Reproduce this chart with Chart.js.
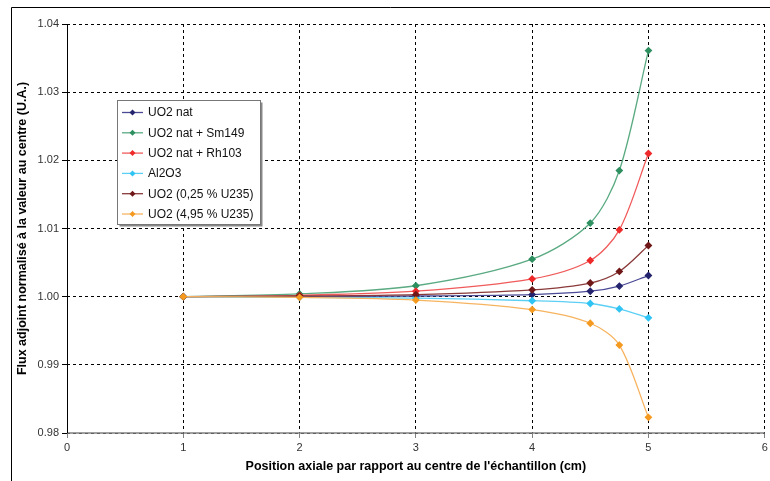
<!DOCTYPE html>
<html>
<head>
<meta charset="utf-8">
<script src="https://cdn.jsdelivr.net/npm/chart.js@4.4.1/dist/chart.umd.min.js"></script>
<style>
  html, body { margin: 0; padding: 0; background: #fff; }
  #wrap { width: 770px; height: 481px; }
</style>
</head>
<body>
<div id="wrap"><canvas id="graficaFlux" width="770" height="481"></canvas></div>
<script>
// positions (cm) et flux normalisé
const positions = [1, 2, 3, 4, 4.5, 4.75, 5];
const uo2Nat     = [1.0000, 1.0000, 1.0001, 1.0003, 1.0008, 1.00155, 1.0031];
const uo2Sm149   = [1.0000, 1.0004, 1.0016, 1.0055, 1.0108, 1.0185, 1.0361];
const uo2Rh103   = [1.0000, 1.0002, 1.0008, 1.0026, 1.0053, 1.0098, 1.0210];
const al2o3      = [1.0000, 0.9999, 0.9998, 0.9994, 0.9990, 0.9982, 0.9969];
const uo2Low     = [1.0000, 1.0001, 1.0003, 1.0010, 1.0020, 1.0037, 1.0075];
const uo2High    = [1.0000, 0.9999, 0.9995, 0.9981, 0.9961, 0.9929, 0.9823];

const noms = ["UO2 nat", "UO2 nat + Sm149", "UO2 nat + Rh103", "Al2O3", "UO2 (0,25 % U235)", "UO2 (4,95 % U235)"];
const series = [uo2Nat, uo2Sm149, uo2Rh103, al2o3, uo2Low, uo2High];
const couleurs = ['#24246e', '#2e9060', '#ee2a2a', '#30c4f4', '#701818', '#f59a20'];
const couleursLigne = ['#4a4a96', '#5aaa82', '#f05a5a', '#5ccff4', '#8a3a3a', '#f7b460'];

const xTicks = [0, 1, 2, 3, 4, 5, 6];

const police = "'Liberation Sans', Arial, sans-serif";

const datasets = series.map((s, i) => ({
    label: noms[i],
    data: s.map((v, j) => ({ x: positions[j], y: v })),
    borderColor: couleursLigne[i],
    backgroundColor: couleurs[i],
    pointBackgroundColor: couleurs[i],
    pointBorderColor: couleurs[i],
    pointStyle: 'rectRot',
    pointRadius: 3,
    borderWidth: 1.3,
    tension: 0.3,
    order: series.length - i
}));

const cadre = {
    id: 'cadre',
    beforeDraw(chart) {
        const c = chart.ctx;
        c.save();
        c.fillStyle = '#fff';
        c.fillRect(0, 0, chart.width, chart.height);
        c.strokeStyle = '#000';
        c.lineWidth = 1;
        c.beginPath();
        c.moveTo(11.5, chart.height);
        c.lineTo(11.5, 7.5);
        c.lineTo(chart.width, 7.5);
        c.stroke();
        c.restore();
    },
    beforeDatasetsDraw(chart) {
        // axes pleins : x gris, y noir
        const a = chart.chartArea;
        const c = chart.ctx;
        c.save();
        c.lineWidth = 1.5;
        c.strokeStyle = '#808080';
        c.beginPath();
        c.moveTo(a.left, Math.round(a.bottom));
        c.lineTo(a.right, Math.round(a.bottom));
        c.stroke();
        c.lineWidth = 1;
        c.strokeStyle = '#000';
        c.beginPath();
        c.moveTo(Math.round(a.left) + 0.5, a.top);
        c.lineTo(Math.round(a.left) + 0.5, a.bottom);
        c.stroke();
        c.restore();
    }
};

const legende = {
    id: 'legende',
    afterDraw(chart) {
        const c = chart.ctx;
        const x = 117.5, y = 100.5, w = 143, h = 124;
        c.save();
        c.fillStyle = '#888';
        c.fillRect(x + 2, y + 2, w, h);
        c.fillStyle = '#fff';
        c.fillRect(x, y, w, h);
        c.strokeStyle = '#777';
        c.lineWidth = 1;
        c.strokeRect(x, y, w, h);
        c.font = '12px ' + police;
        c.textBaseline = 'middle';
        chart.data.datasets.forEach((d, i) => {
            const yy = 112.5 + i * 20.3;
            c.strokeStyle = d.borderColor;
            c.lineWidth = 1.3;
            c.beginPath();
            c.moveTo(122, yy);
            c.lineTo(143, yy);
            c.stroke();
            c.fillStyle = d.pointBackgroundColor;
            c.beginPath();
            c.moveTo(132.5, yy - 3);
            c.lineTo(135.5, yy);
            c.lineTo(132.5, yy + 3);
            c.lineTo(129.5, yy);
            c.closePath();
            c.fill();
            c.fillStyle = '#111';
            c.fillText(d.label, 148, yy + 0.5);
        });
        c.restore();
    }
};

new Chart(document.getElementById('graficaFlux').getContext('2d'), {
    type: 'line',
    data: { datasets: datasets },
    plugins: [cadre, legende],
    options: {
        responsive: false,
        animation: false,
        layout: { padding: { left: 0, top: 24, right: 3, bottom: 0 } },
        plugins: {
            legend: { display: false },
            tooltip: { enabled: false }
        },
        scales: {
            x: {
                type: 'linear',
                min: 0,
                max: 6,
                afterBuildTicks: s => { s.ticks = xTicks.map(v => ({ value: v })); },
                afterFit: s => { s.height = 48; s.paddingRight = 0; s.paddingLeft = 0; },
                ticks: {
                    color: '#333',
                    font: { family: police, size: 11 },
                    padding: 3
                },
                grid: {
                    color: '#000',
                    lineWidth: 1,
                    tickLength: 5,
                    tickColor: '#808080'
                },
                border: { display: false, dash: [3, 3] },
                title: {
                    display: true,
                    text: "Position axiale par rapport au centre de l'échantillon (cm)",
                    color: '#000',
                    font: { family: police, size: 12.5, weight: 'bold' },
                    padding: { top: 0, bottom: 7 }
                }
            },
            y: {
                type: 'linear',
                min: 0.98,
                max: 1.04,
                afterFit: s => { s.width = 67; },
                ticks: {
                    stepSize: 0.01,
                    color: '#333',
                    font: { family: police, size: 11 },
                    padding: 3,
                    callback: v => v.toFixed(2)
                },
                grid: {
                    color: '#000',
                    lineWidth: 1,
                    tickLength: 5,
                    tickColor: '#000'
                },
                border: { display: false, dash: [3, 3] },
                title: {
                    display: true,
                    text: 'Flux adjoint normalisé à la valeur au centre (U.A.)',
                    color: '#000',
                    font: { family: police, size: 12.5, weight: 'bold' },
                    padding: { top: 15, bottom: 0 }
                }
            }
        }
    }
});
</script>
</body>
</html>
